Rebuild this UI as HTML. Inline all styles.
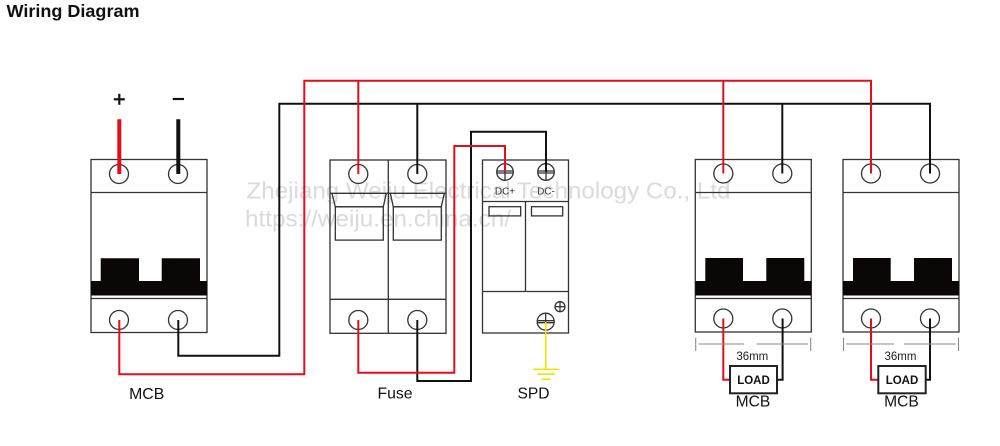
<!DOCTYPE html>
<html><head><meta charset="utf-8"><style>
html,body{margin:0;padding:0;background:#fff;}
svg{display:block;}
text{font-family:"Liberation Sans",sans-serif;}
</style></head><body>
<svg width="1000" height="446" viewBox="0 0 1000 446" xmlns="http://www.w3.org/2000/svg">
<rect width="1000" height="446" fill="#fff"/>
<text x="6.5" y="16.8" font-size="17.5" font-weight="bold" fill="#111" textLength="133" lengthAdjust="spacingAndGlyphs">Wiring Diagram</text>

<!-- watermark -->
<text x="246.5" y="198.3" font-size="23" fill="#dadada" textLength="484" lengthAdjust="spacingAndGlyphs">Zhejiang Weiju Electrical Technology Co., Ltd</text>
<text x="245" y="226.7" font-size="23" fill="#dadada" textLength="266" lengthAdjust="spacingAndGlyphs">https://weiju.en.china.cn/</text>

<!-- + / - -->
<line x1="113.8" y1="99.3" x2="124.8" y2="99.3" stroke="#111" stroke-width="2.2"/>
<line x1="119.3" y1="93.8" x2="119.3" y2="104.8" stroke="#111" stroke-width="2.2"/>
<line x1="172.7" y1="99" x2="184" y2="99" stroke="#111" stroke-width="2.2"/>

<g fill="none" stroke="#333" stroke-width="1.3">
<!-- MCB left -->
<rect x="91" y="159.5" width="116" height="173"/>
<line x1="91" y1="192.5" x2="207" y2="192.5"/>
<line x1="91" y1="298.5" x2="207" y2="298.5"/>
<circle cx="119" cy="174" r="9.5"/><circle cx="178" cy="174" r="9.5"/>
<circle cx="119" cy="320" r="9.5"/><circle cx="178" cy="320" r="9.5"/>
<!-- MCB 2 -->
<rect x="695.3" y="159.5" width="116" height="172.5"/>
<line x1="695.3" y1="192.5" x2="811.3" y2="192.5"/>
<line x1="695.3" y1="298.5" x2="811.3" y2="298.5"/>
<circle cx="723.3" cy="173.5" r="9.5"/><circle cx="782.3" cy="173.5" r="9.5"/>
<circle cx="723.3" cy="318.5" r="9.5"/><circle cx="782.3" cy="318.5" r="9.5"/>
<!-- MCB 3 -->
<rect x="843" y="159.5" width="116" height="172.5"/>
<line x1="843" y1="192.5" x2="959" y2="192.5"/>
<line x1="843" y1="298.5" x2="959" y2="298.5"/>
<circle cx="871" cy="173.5" r="9.5"/><circle cx="930" cy="173.5" r="9.5"/>
<circle cx="871" cy="318.5" r="9.5"/><circle cx="930" cy="318.5" r="9.5"/>
<!-- Fuse -->
<rect x="330" y="160" width="116" height="173.3"/>
<line x1="388.3" y1="160" x2="388.3" y2="333.3"/>
<line x1="330" y1="193.3" x2="446" y2="193.3"/>
<line x1="330" y1="299.3" x2="446" y2="299.3"/>
<circle cx="358.3" cy="174" r="9.5"/><circle cx="417.3" cy="174" r="9.5"/>
<circle cx="358.3" cy="320" r="9.5"/><circle cx="417.3" cy="320" r="9.5"/>
<path d="M332 193.3 L335.3 206.8 L383.3 206.8 L386.3 193.3"/>
<rect x="335.3" y="206.8" width="48" height="33.3"/>
<path d="M390.3 193.3 L393.3 206.8 L441.3 206.8 L444.3 193.3"/>
<rect x="393.3" y="206.8" width="48" height="33.3"/>
<!-- SPD -->
<rect x="482.5" y="160" width="86" height="173"/>
<line x1="482.5" y1="201.5" x2="568.5" y2="201.5"/>
<line x1="482.5" y1="291.5" x2="568.5" y2="291.5"/>
<line x1="525.5" y1="201.5" x2="525.5" y2="291.5"/>
<rect x="489" y="206.7" width="31.7" height="9.2"/>
<rect x="531.5" y="206.7" width="31.2" height="9.2"/>
<circle cx="505" cy="172" r="8.3"/><circle cx="546" cy="172" r="8.3"/>
<line x1="496.7" y1="171" x2="513.3" y2="171"/><line x1="496.7" y1="173" x2="513.3" y2="173"/><line x1="505" y1="163.7" x2="505" y2="180.3"/>
<line x1="537.7" y1="171" x2="554.3" y2="171"/><line x1="537.7" y1="173" x2="554.3" y2="173"/><line x1="546" y1="163.7" x2="546" y2="180.3"/>
<circle cx="545.7" cy="321.7" r="8.5"/>
<line x1="537.2" y1="320.7" x2="554.2" y2="320.7"/><line x1="537.2" y1="322.7" x2="554.2" y2="322.7"/><line x1="545.7" y1="313.2" x2="545.7" y2="330.2"/>
<circle cx="560" cy="306.7" r="5"/>
<line x1="555" y1="306.7" x2="565" y2="306.7"/><line x1="560" y1="301.7" x2="560" y2="311.7"/>
</g>

<!-- MCB handles -->
<g fill="#0a0706">
<path d="M91 295.5 V281 H100.7 V258.3 H139 V281 H161.7 V258.3 H200 V281 H207 V295.5 Z"/>
<path d="M695.3 295.5 V281 H705.3 V258 H743 V281 H766.3 V258 H804.3 V281 H811.3 V295.5 Z"/>
<path d="M843 295.5 V281 H853 V258 H890.7 V281 H914 V258 H952 V281 H959 V295.5 Z"/>
</g>

<text x="505" y="194.3" font-size="10" fill="#333" text-anchor="middle">DC+</text>
<text x="546" y="194.3" font-size="10" fill="#333" text-anchor="middle">DC-</text>

<!-- wires black -->
<g fill="none" stroke="#111" stroke-width="2">
<polyline points="178.3,320 178.3,355.7 279.3,355.7 279.3,103.8 930,103.8 930,173.5"/>
<line x1="417.3" y1="103.8" x2="417.3" y2="174"/>
<line x1="782.3" y1="103.8" x2="782.3" y2="173.5"/>
<polyline points="417.3,320 417.3,381 471,381 471,131.7 546,131.7 546,172"/>
<polyline points="782.6,318.5 782.6,379.7 777,379.7"/>
<polyline points="930,318.5 930,379.7 925.7,379.7"/>
</g>
<line x1="178.3" y1="119.3" x2="178.3" y2="174" stroke="#111" stroke-width="4"/>

<!-- wires red -->
<g fill="none" stroke="#e30d1c" stroke-width="2">
<polyline points="119.3,320 119.3,374.3 304.3,374.3 304.3,80.8 871,80.8 871,173.5"/>
<line x1="358.3" y1="80.8" x2="358.3" y2="174"/>
<line x1="723.3" y1="80.8" x2="723.3" y2="173.5"/>
<polyline points="358.3,320 358.3,372.7 454.3,372.7 454.3,146 505,146 505,172"/>
<polyline points="723.3,318.5 723.3,379.7 730,379.7"/>
<polyline points="871,318.5 871,379.7 878.3,379.7"/>
</g>
<line x1="119.3" y1="119.3" x2="119.3" y2="174" stroke="#e30d1c" stroke-width="4"/>

<!-- ground -->
<g stroke="#f2e400" stroke-width="1.6" fill="none">
<line x1="545.7" y1="322" x2="545.7" y2="369.3"/>
<line x1="533.3" y1="369.3" x2="559.3" y2="369.3"/>
<line x1="537" y1="374.2" x2="555" y2="374.2"/>
<line x1="541.5" y1="379.3" x2="550.5" y2="379.3"/>
</g>

<!-- dimension lines -->
<g stroke="#8a8a8a" stroke-width="1.1" fill="none">
<line x1="695.7" y1="337.7" x2="695.7" y2="351"/>
<line x1="810.7" y1="337.7" x2="810.7" y2="351"/>
<line x1="698.5" y1="344" x2="744" y2="344"/>
<line x1="756.7" y1="344" x2="808" y2="344"/>
<line x1="843.5" y1="337.7" x2="843.5" y2="351"/>
<line x1="958.5" y1="337.7" x2="958.5" y2="351"/>
<line x1="846" y1="344" x2="894" y2="344"/>
<line x1="904" y1="344" x2="956" y2="344"/>
</g>
<text x="752.3" y="360" font-size="11.5" fill="#222" text-anchor="middle">36mm</text>
<text x="900.5" y="360" font-size="11.5" fill="#222" text-anchor="middle">36mm</text>

<!-- LOAD boxes -->
<rect x="730" y="366" width="47" height="27.3" fill="#fff" stroke="#222" stroke-width="2"/>
<text x="753.5" y="384" font-size="11.5" font-weight="bold" fill="#111" text-anchor="middle">LOAD</text>
<rect x="878.3" y="366" width="47.4" height="27.3" fill="#fff" stroke="#222" stroke-width="2"/>
<text x="902" y="384" font-size="11.5" font-weight="bold" fill="#111" text-anchor="middle">LOAD</text>

<!-- labels -->
<text x="146.7" y="399" font-size="15.8" fill="#111" text-anchor="middle">MCB</text>
<text x="395" y="398.3" font-size="15.8" fill="#111" text-anchor="middle">Fuse</text>
<text x="533.5" y="398.3" font-size="15.6" fill="#111" text-anchor="middle">SPD</text>
<text x="753" y="406.7" font-size="15.6" fill="#111" text-anchor="middle">MCB</text>
<text x="901.5" y="406.7" font-size="15.6" fill="#111" text-anchor="middle">MCB</text>
</svg>
</body></html>
